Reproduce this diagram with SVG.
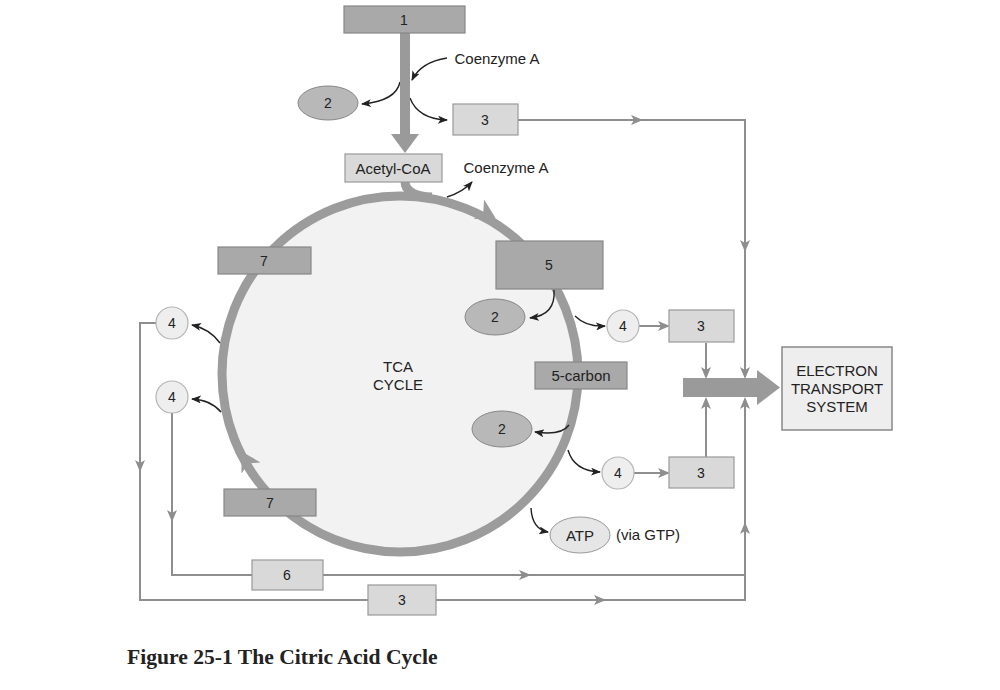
<svg xmlns="http://www.w3.org/2000/svg" width="1000" height="690" viewBox="0 0 1000 690">
<style>
text{font-family:"Liberation Sans",Arial,sans-serif;fill:#222;text-anchor:middle;dominant-baseline:central}
.dark{fill:#a9a9a9;stroke:#888;stroke-width:1.2}
.light{fill:#d9d9d9;stroke:#999;stroke-width:1.2}
.ell{fill:#b8b8b8;stroke:#888;stroke-width:1}
.c4{fill:#eeeeee;stroke:#b5b5b5;stroke-width:1.2}
.g{fill:none;stroke:#8e8e8e;stroke-width:2}
.b{fill:none;stroke:#222;stroke-width:1.4}
.n{font-size:14px}
.t{font-size:15px}
</style>
<defs>
<marker id="ga" viewBox="0 0 12 10" refX="10" refY="5" markerWidth="12" markerHeight="10" markerUnits="userSpaceOnUse" orient="auto">
<path d="M0,0 L12,5 L0,10 L3,5 Z" fill="#8e8e8e"/>
</marker>
<marker id="ba" viewBox="0 0 10 8" refX="9" refY="4" markerWidth="10" markerHeight="8" markerUnits="userSpaceOnUse" orient="auto">
<path d="M0,0 L10,4 L0,8 L2.5,4 Z" fill="#222"/>
</marker>
</defs>
<rect width="1000" height="690" fill="#fff"/>

<g id="cycle">
<circle cx="400" cy="374" r="178" fill="#f2f2f2" stroke="#9c9c9c" stroke-width="9"/>
<path d="M405,181 Q405,196 432,197" fill="none" stroke="#9c9c9c" stroke-width="9"/>
<polygon points="11,0 -8,-11 -3,0 -8,11" fill="#9c9c9c" transform="translate(486,213) rotate(28)"/>
<polygon points="11,0 -8,-11 -3,0 -8,11" fill="#9c9c9c" transform="translate(247,461) rotate(-120)"/>
<text class="t" x="398" y="366">TCA</text>
<text class="t" x="398" y="384">CYCLE</text>
</g>

<g id="connectors">
<path class="g" d="M518,120 H641" marker-end="url(#ga)"/>
<path class="g" d="M640,120 H745 V250" marker-end="url(#ga)"/>
<path class="g" d="M745,248 V377" marker-end="url(#ga)"/>
<path class="g" d="M639,326 H668" marker-end="url(#ga)"/>
<path class="g" d="M706,343 V377" marker-end="url(#ga)"/>
<path class="g" d="M634,473 H668" marker-end="url(#ga)"/>
<path class="g" d="M706,457 V399" marker-end="url(#ga)"/>
<path class="g" d="M156,323 H140 V470" marker-end="url(#ga)"/>
<path class="g" d="M140,468 V600 H368"/>
<path class="g" d="M436,600 H604" marker-end="url(#ga)"/>
<path class="g" d="M602,600 H745 V524" marker-end="url(#ga)"/>
<path class="g" d="M745,526 V399" marker-end="url(#ga)"/>
<path class="g" d="M172,413 V520" marker-end="url(#ga)"/>
<path class="g" d="M172,518 V575 H252"/>
<path class="g" d="M323,575 H529" marker-end="url(#ga)"/>
<path class="g" d="M527,575 H745"/>
<path class="b" d="M447,58 Q421,62 412,80" marker-end="url(#ba)"/>
<path class="b" d="M400,82 Q396,101 362,104" marker-end="url(#ba)"/>
<path class="b" d="M410,98 Q418,119 447,120" marker-end="url(#ba)"/>
<path class="b" d="M447,197 Q463,192 472,182" marker-end="url(#ba)"/>
<path class="b" d="M554,290 Q556,315 530,318" marker-end="url(#ba)"/>
<path class="b" d="M575,316 Q586,327 605,326" marker-end="url(#ba)"/>
<path class="b" d="M569,425 Q561,436 535,432" marker-end="url(#ba)"/>
<path class="b" d="M568,450 Q574,471 600,472" marker-end="url(#ba)"/>
<path class="b" d="M531,508 Q532,529 548,532" marker-end="url(#ba)"/>
<path class="b" d="M220,343 Q210,329 192,325" marker-end="url(#ba)"/>
<path class="b" d="M221,412 Q211,400 192,399" marker-end="url(#ba)"/>
<rect x="400" y="32" width="10" height="103" fill="#9a9a9a"/>
<polygon points="391,134 419,134 405,153" fill="#9a9a9a"/>
<polygon points="683,378 757,378 757,370 780,387.5 757,405 757,397 683,397" fill="#9a9a9a"/>
</g>

<g id="box1"><rect class="dark" x="344" y="6" width="121" height="27"/><text class="n" x="404" y="19.5">1</text></g>
<g id="coa1"><text class="t" x="497" y="58">Coenzyme A</text></g>
<g id="ell2a"><ellipse class="ell" cx="328" cy="103" rx="30" ry="17"/><text class="n" x="328" y="103">2</text></g>
<g id="box3a"><rect class="light" x="453" y="104" width="65" height="31"/><text class="n" x="485" y="120">3</text></g>
<g id="acetyl"><rect class="light" x="345" y="154" width="97" height="28"/><text class="t" x="393" y="168">Acetyl-CoA</text></g>
<g id="coa2"><text class="t" x="506" y="167">Coenzyme A</text></g>
<g id="box5"><rect class="dark" x="496" y="241" width="107" height="48"/><text class="n" x="549" y="265">5</text></g>
<g id="ell2b"><ellipse class="ell" cx="495" cy="317" rx="30" ry="18"/><text class="n" x="495" y="317">2</text></g>
<g id="c4a"><circle class="c4" cx="623" cy="326" r="16"/><text class="n" x="623" y="326">4</text></g>
<g id="box3b"><rect class="light" x="669" y="310" width="65" height="32"/><text class="n" x="701" y="326">3</text></g>
<g id="carbon5"><rect class="dark" x="535" y="362" width="92" height="27"/><text class="t" x="581" y="375.5">5-carbon</text></g>
<g id="ets"><rect x="782" y="347" width="110" height="83" fill="#eeeeee" stroke="#888" stroke-width="1.5"/>
<text class="t" x="837" y="370">ELECTRON</text><text class="t" x="837" y="388">TRANSPORT</text><text class="t" x="837" y="406">SYSTEM</text></g>
<g id="ell2c"><ellipse class="ell" cx="502" cy="429" rx="30" ry="18"/><text class="n" x="502" y="429">2</text></g>
<g id="c4b"><circle class="c4" cx="618" cy="473" r="16"/><text class="n" x="618" y="473">4</text></g>
<g id="box3c"><rect class="light" x="669" y="457" width="65" height="31"/><text class="n" x="701" y="472.5">3</text></g>
<g id="atp"><ellipse cx="580" cy="535" rx="30" ry="18" fill="#e6e6e6" stroke="#999" stroke-width="1"/><text class="t" x="580" y="535">ATP</text><text class="t" x="648" y="534">(via GTP)</text></g>
<g id="box7a"><rect class="dark" x="218" y="247" width="93" height="27"/><text class="n" x="264" y="260.5">7</text></g>
<g id="c4c"><circle class="c4" cx="172" cy="323" r="16"/><text class="n" x="172" y="323">4</text></g>
<g id="c4d"><circle class="c4" cx="172" cy="397" r="16"/><text class="n" x="172" y="397">4</text></g>
<g id="box7b"><rect class="dark" x="224" y="489" width="92" height="27"/><text class="n" x="270" y="502.5">7</text></g>
<g id="box6"><rect class="light" x="252" y="560" width="71" height="30"/><text class="n" x="287" y="575">6</text></g>
<g id="box3d"><rect class="light" x="368" y="585" width="68" height="30"/><text class="n" x="402" y="600">3</text></g>
<text x="127" y="657" style="font-family:'Liberation Serif','Times New Roman',serif;font-weight:bold;font-size:21.6px;text-anchor:start">Figure 25-1 The Citric Acid Cycle</text>
</svg>
